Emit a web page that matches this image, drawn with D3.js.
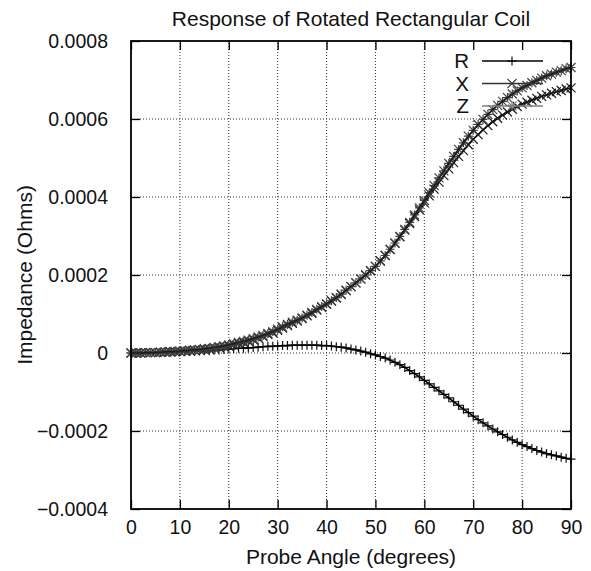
<!DOCTYPE html>
<html>
<head>
<meta charset="utf-8">
<script src="https://cdn.jsdelivr.net/npm/d3@7/dist/d3.min.js"></script>
<style>
  html, body { margin: 0; padding: 0; background: #fff; }
  svg { display: block; font-family: "Liberation Sans", Arial, Helvetica, sans-serif; }
</style>
</head>
<body>
<svg id="chart" width="591" height="571"></svg>
<script>
// ---------------- data (values in units of 1e-4 Ohm) ----------------
const angles = d3.range(0, 91, 1); // 0..90 degrees, 1 degree steps
const seriesNames = ["R", "X", "Z"];
const valuesR = [
  0.00, 0.00, 0.00, 0.01, 0.01, 0.01, 0.01, 0.02, 0.02, 0.02, 0.03,
  0.03, 0.04, 0.04, 0.05, 0.06, 0.06, 0.07, 0.08, 0.09, 0.10,
  0.11, 0.12, 0.12, 0.13, 0.14, 0.15, 0.16, 0.17, 0.17, 0.18,
  0.19, 0.19, 0.20, 0.20, 0.20, 0.20, 0.20, 0.20, 0.19, 0.19,
  0.18, 0.16, 0.15, 0.13, 0.10, 0.08, 0.05, 0.02, -0.02, -0.05,
  -0.09, -0.13, -0.18, -0.24, -0.30, -0.37, -0.45, -0.53, -0.61, -0.70,
  -0.79, -0.88, -0.97, -1.06, -1.15, -1.25, -1.34, -1.44, -1.53, -1.62,
  -1.71, -1.79, -1.87, -1.95, -2.02, -2.09, -2.16, -2.23, -2.29, -2.35,
  -2.40, -2.45, -2.50, -2.54, -2.58, -2.61, -2.64, -2.67, -2.70, -2.72
];
const valuesX = [
  0.00, 0.00, 0.00, 0.01, 0.01, 0.01, 0.02, 0.02, 0.03, 0.03, 0.04,
  0.05, 0.06, 0.07, 0.08, 0.09, 0.10, 0.12, 0.14, 0.16, 0.18,
  0.21, 0.24, 0.27, 0.30, 0.34, 0.38, 0.42, 0.47, 0.52, 0.58,
  0.64, 0.70, 0.76, 0.82, 0.88, 0.95, 1.02, 1.10, 1.17, 1.25,
  1.33, 1.41, 1.50, 1.60, 1.70, 1.80, 1.90, 2.00, 2.11, 2.22,
  2.36, 2.50, 2.65, 2.81, 2.98, 3.15, 3.32, 3.50, 3.67, 3.85,
  4.03, 4.20, 4.38, 4.55, 4.72, 4.88, 5.04, 5.19, 5.34, 5.48,
  5.60, 5.72, 5.83, 5.93, 6.02, 6.10, 6.18, 6.25, 6.32, 6.38,
  6.43, 6.48, 6.53, 6.58, 6.62, 6.66, 6.70, 6.73, 6.77, 6.80
];
const valuesZ = [
  0.00, 0.00, 0.00, 0.01, 0.01, 0.01, 0.02, 0.03, 0.04, 0.04, 0.05,
  0.06, 0.07, 0.08, 0.09, 0.11, 0.12, 0.14, 0.16, 0.18, 0.21,
  0.24, 0.27, 0.30, 0.33, 0.37, 0.41, 0.45, 0.50, 0.55, 0.61,
  0.67, 0.73, 0.79, 0.84, 0.90, 0.97, 1.04, 1.12, 1.19, 1.26,
  1.34, 1.42, 1.51, 1.61, 1.70, 1.80, 1.90, 2.00, 2.11, 2.22,
  2.36, 2.50, 2.66, 2.82, 2.99, 3.17, 3.35, 3.54, 3.72, 3.91,
  4.11, 4.29, 4.49, 4.67, 4.86, 5.04, 5.22, 5.39, 5.56, 5.71,
  5.86, 5.99, 6.12, 6.24, 6.35, 6.45, 6.55, 6.64, 6.72, 6.80,
  6.86, 6.93, 6.99, 7.05, 7.11, 7.15, 7.20, 7.24, 7.29, 7.32
];
const xTicks = [0, 10, 20, 30, 40, 50, 60, 70, 80, 90];
const yTicks = [-0.0004, -0.0002, 0, 0.0002, 0.0004, 0.0006, 0.0008];
const yTickLabels = ["\u22120.0004", "\u22120.0002", "0", "0.0002", "0.0004", "0.0006", "0.0008"];
const titleText = "Response of Rotated Rectangular Coil";
const xLabelText = "Probe Angle (degrees)";
const yLabelText = "Impedance (Ohms)";

// ---------------- layout ----------------
const svg = d3.select("#chart");
const L = 131, R = 571, T = 41, B = 509;
const x = d3.scaleLinear().domain([0, 90]).range([L, R]);
const y = d3.scaleLinear().domain([-0.0004, 0.0008]).range([B, T]);

const lineColors = { R: "#000000", X: "#111111", Z: "#1e1e1e" };
const markColors = { R: "#111111", X: "#1e1e1e", Z: "#404040" };
const keyColors = { R: "#000000", X: "#333333", Z: "#808080" };
const seriesData = {
  R: angles.map((a, i) => ({ a, v: valuesR[i] * 1e-4 })),
  X: angles.map((a, i) => ({ a, v: valuesX[i] * 1e-4 })),
  Z: angles.map((a, i) => ({ a, v: valuesZ[i] * 1e-4 }))
};
const s = 4.5;
const markerPath = {
  R: `M${-s},0H${s}M0,${-s}V${s}`,
  X: `M${-s},${-s}L${s},${s}M${-s},${s}L${s},${-s}`,
  Z: `M${-s},0H${s}M0,${-s}V${s}M${-s},${-s}L${s},${s}M${-s},${s}L${s},${-s}`
};

// grid
const grid = svg.append("g").attr("stroke", "#333").attr("stroke-width", 1)
  .attr("stroke-dasharray", "1,2").attr("fill", "none");
xTicks.filter(t => t > 0 && t < 90).forEach(t => {
  grid.append("line").attr("x1", x(t)).attr("x2", x(t)).attr("y1", B).attr("y2", T);
});
yTicks.filter(t => t > -0.0004 && t < 0.0008).forEach(t => {
  grid.append("line").attr("x1", L).attr("x2", R).attr("y1", y(t)).attr("y2", y(t));
});
// key box background (blocks grid)
svg.append("rect").attr("x", 446).attr("y", T + 1).attr("width", R - 447).attr("height", 76).attr("fill", "#fff");

// axes
const fs = 19.5;
const axL = svg.append("g").attr("transform", `translate(${L},0)`)
  .call(d3.axisLeft(y).tickValues(yTicks).tickFormat((d, i) => yTickLabels[i]).tickSizeInner(-9).tickSizeOuter(0).tickPadding(23));
const axB = svg.append("g").attr("transform", `translate(0,${B})`)
  .call(d3.axisBottom(x).tickValues(xTicks).tickFormat(d3.format("d")).tickSizeInner(-9).tickSizeOuter(0).tickPadding(11));
const axT = svg.append("g").attr("transform", `translate(0,${T})`)
  .call(d3.axisTop(x).tickValues(xTicks).tickFormat("").tickSizeInner(-9).tickSizeOuter(0));
const axR = svg.append("g").attr("transform", `translate(${R},0)`)
  .call(d3.axisRight(y).tickValues(yTicks).tickFormat("").tickSizeInner(-9).tickSizeOuter(0));
[axL, axB, axT, axR].forEach(g => {
  g.select(".domain").remove();
  g.selectAll(".tick line").attr("stroke", "#000").attr("stroke-width", 1.3);
  g.selectAll(".tick text").attr("font-size", fs).attr("font-family", "Liberation Sans, Arial, sans-serif").attr("fill", "#111");
});

// curves
const line = d3.line().x(d => x(d.a)).y(d => y(d.v));
seriesNames.forEach(name => {
  svg.append("g").selectAll("path").data(seriesData[name]).join("path")
    .attr("transform", d => `translate(${x(d.a)},${y(d.v)})`)
    .attr("d", markerPath[name]).attr("fill", "none")
    .attr("stroke", markColors[name]).attr("stroke-width", 1.2);
  svg.append("path").datum(seriesData[name]).attr("d", line)
    .attr("fill", "none").attr("stroke", lineColors[name]).attr("stroke-width", 1.6);
});

// border
svg.append("rect").attr("x", L).attr("y", T).attr("width", R - L).attr("height", B - T)
  .attr("fill", "none").attr("stroke", "#000").attr("stroke-width", 1.8);

// legend
const keyY = [61, 83.5, 106];
seriesNames.forEach((name, i) => {
  svg.append("text").attr("x", 469).attr("y", keyY[i]).attr("dy", "0.35em")
    .attr("text-anchor", "end").attr("font-size", 20.5).attr("fill", "#111").text(name);
  svg.append("line").attr("x1", 482).attr("x2", 543).attr("y1", keyY[i]).attr("y2", keyY[i])
    .attr("stroke", keyColors[name]).attr("stroke-width", 1.4);
  svg.append("path").attr("transform", `translate(512,${keyY[i]})`).attr("d", markerPath[name])
    .attr("fill", "none").attr("stroke", keyColors[name]).attr("stroke-width", 1.1);
});

// titles
svg.append("text").attr("x", (L + R) / 2).attr("y", 26).attr("text-anchor", "middle")
  .attr("font-size", 21).attr("fill", "#111").text(titleText);
svg.append("text").attr("x", (L + R) / 2).attr("y", 564).attr("text-anchor", "middle")
  .attr("font-size", 21).attr("fill", "#111").text(xLabelText);
svg.append("text").attr("transform", `translate(32,${(T + B) / 2}) rotate(-90)`)
  .attr("text-anchor", "middle").attr("font-size", 21).attr("fill", "#111").text(yLabelText);
</script>
</body>
</html>
